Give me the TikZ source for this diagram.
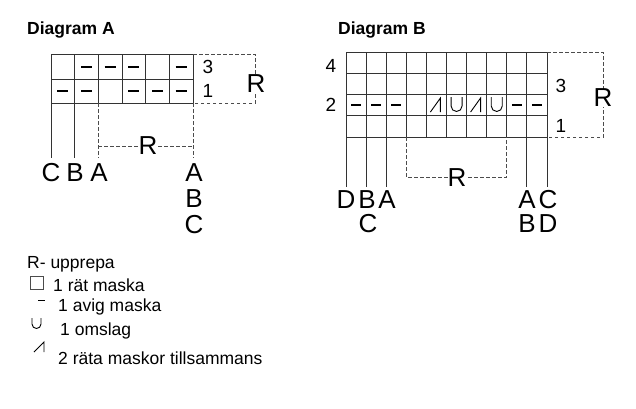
\documentclass[tikz,border=0pt]{standalone}
\usepackage{fontspec}
\setmainfont{Liberation Sans}
\begin{document}
\begin{tikzpicture}[x=1pt,y=-1pt,
  grid/.style={line width=1pt,black!80},
  dsh/.style={line width=0.9pt,black!70,dash pattern=on 3.5pt off 2.5pt},
  big/.style={font=\fontsize{26}{26}\selectfont,inner sep=0pt},
  num/.style={font=\fontsize{19}{19}\selectfont,inner sep=0pt},
  ttl/.style={font=\bfseries\fontsize{17.5}{17.5}\selectfont,inner sep=0pt,anchor=west},
  leg/.style={font=\fontsize{17.5}{17.5}\selectfont,inner sep=0pt,anchor=west},
  purl/.style={line width=2pt},
  sym/.style={line width=0.9pt}]
\useasboundingbox (0,0) rectangle (636,408);
\fill[white] (0,0) rectangle (636,408);
% ---------- Diagram A
\node[ttl] (ta) at (27,30) {Diagram A};
\foreach \x in {51,74.7,98.3,122,145.7,169.3,193} \draw[grid] (\x,54)--(\x,103);
\foreach \y in {54,79,103} \draw[grid] (51,\y)--(193,\y);
\foreach \c in {2,3,4,6} \draw[purl] ({51+(\c-0.5)*23.67-5.5},67)--++(11,0);
\foreach \c in {1,2,4,5,6} \draw[purl] ({51+(\c-0.5)*23.67-5.5},91)--++(11,0);
\draw[dsh] (193,54)--(255,54)--(255,103)--(193,103);
\node[num] (a3) at (208,67) {3};
\node[num] (a1) at (208,91) {1};
\node[big,fill=white] (aR) at (256,84) {R};
\draw[grid] (51,103)--(51,158);
\draw[grid] (74.7,103)--(74.7,158);
\draw[dsh] (98.3,103)--(98.3,158);
\draw[dsh] (193,103)--(193,158);
\draw[dsh] (98.3,146)--(193,146);
\node[big,fill=white] (aR2) at (148,146) {R};
\node[big] (aC) at (51,173) {C};
\node[big] (aB) at (75,173) {B};
\node[big] (aA) at (99,173) {A};
\node[big] (aA2) at (194,173) {A};
\node[big] (aB2) at (194,199) {B};
\node[big] (aC2) at (194,225) {C};
% ---------- Diagram B
\node[ttl] (tb) at (338,30) {Diagram B};
\foreach \i in {0,...,10} \draw[grid] ({346+\i*20.1},52)--({346+\i*20.1},137);
\foreach \y in {52,73.3,94.6,115.9,137} \draw[grid] (346,\y)--(547,\y);
\foreach \c in {1,2,3,9,10} \draw[purl] ({346+(\c-0.5)*20.1-5},105)--++(10,0);
\foreach \c in {5,7} {
  \draw[sym] ({346+(\c-1)*20.1+4},112)--({346+(\c-1)*20.1+14},98)--({346+(\c-1)*20.1+14},112);}
\foreach \c in {6,8} {
  \draw[sym] ({346+(\c-0.5)*20.1-5.5},97)--({346+(\c-0.5)*20.1-5.5},106) arc[start angle=180,end angle=0,radius=5.5]--({346+(\c-0.5)*20.1+5.5},97);}
\draw[dsh] (547,52)--(603,52)--(603,137)--(547,137);
\node[num] (b4) at (331,66) {4};
\node[num] (b2) at (331,105) {2};
\node[num] (b3) at (561,86) {3};
\node[num] (b1) at (561,126) {1};
\node[big,fill=white] (bR) at (603,98) {R};
\foreach \x in {346,366.1,386.2,526.9,547} \draw[grid] (\x,137)--(\x,187);
\draw[dsh] (406.3,137)--(406.3,177)--(506.8,177)--(506.8,137);
\node[big,fill=white] (bR2) at (457,178) {R};
\node[big] (bD) at (346,200) {D};
\node[big] (bB) at (367,200) {B};
\node[big] (bA) at (387,200) {A};
\node[big] (bC) at (368,224) {C};
\node[big] (bA2) at (527,200) {A};
\node[big] (bC2) at (548,200) {C};
\node[big] (bB2) at (527,224) {B};
\node[big] (bD2) at (548,224) {D};
% ---------- Legend
\node[leg] (l0) at (27,264) {R- upprepa};
\draw[sym,black!70] (30,276) rectangle (43,289);
\node[leg] (l1) at (53,285) {1 rät maska};
\draw[sym] (38,300)--(45,300);
\node[leg] (l2) at (58,307) {1 avig maska};
\draw[sym] (32,318)--(32,324) arc[start angle=180,end angle=0,radius=4.5]--(41,318);
\node[leg] (l3) at (60,331) {1 omslag};
\draw[sym] (34,352)--(44,342)--(44,352);
\node[leg] (l4) at (58,358) {2 räta maskor tillsammans};
\end{tikzpicture}
\end{document}
